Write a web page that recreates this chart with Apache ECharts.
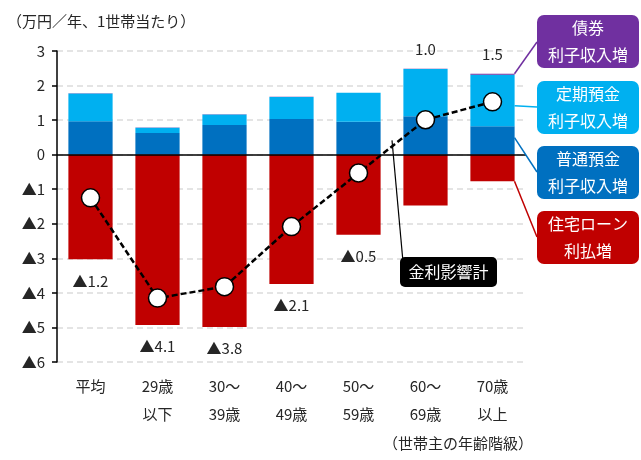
<!DOCTYPE html>
<html><head><meta charset="utf-8">
<script src="https://cdn.jsdelivr.net/npm/echarts@6/dist/echarts.min.js"></script>
<style>html,body{margin:0;padding:0;background:#fff}#c{width:641px;height:460px}</style>
</head><body><div id="c"></div>
<script>
const categories = ['平均','29歳\n以下','30～\n39歳','40～\n49歳','50～\n59歳','60～\n69歳','70歳\n以上'];
const futsuYokin = [0.97, 0.63, 0.86, 1.03, 0.95, 1.11, 0.82];
const teikiYokin = [0.80, 0.15, 0.30, 0.64, 0.84, 1.37, 1.49];
const saiken     = [0.01, 0.005, 0.01, 0.005, 0.005, 0.005, 0.03];
const jutakuLoan = [-3.03, -4.93, -4.99, -3.74, -2.32, -1.47, -0.77];
const kinriTotal = [-1.25, -4.15, -3.82, -2.08, -0.53, 1.01, 1.53];
const totalLabels = ['▲1.2','▲4.1','▲3.8','▲2.1','▲0.5','1.0','1.5'];
const yTicks = [-6,-5,-4,-3,-2,-1,0,1,2,3];

const FONT = '"Noto Sans CJK JP", "Noto Sans", sans-serif';
const chart = echarts.init(document.getElementById('c'), null, {renderer:'canvas'});
const txt = '#262626';

const option = {
  animation: false,
  textStyle: {fontFamily: FONT},
  title: {text: '（万円／年、1世帯当たり）', left: 2, top: 9,
    textStyle: {fontSize: 15, fontWeight: 'normal', color: txt, fontFamily: FONT}},
  grid: {left: 57, right: 115, top: 51, bottom: 98},
  xAxis: {type: 'category', data: categories,
    axisLine: {show: false, onZero: false}, axisTick: {show: false},
    axisLabel: {color: txt, fontSize: 15, lineHeight: 28, margin: 10, fontFamily: FONT}},
  yAxis: {type: 'value', min: yTicks[0], max: yTicks[yTicks.length-1], interval: 1,
    axisLine: {show: true, lineStyle: {color: '#000', width: 1.5}},
    axisTick: {show: true, length: 5, lineStyle: {color: '#000', width: 1.5}},
    axisLabel: {color: txt, fontSize: 15, margin: 12, fontFamily: FONT,
      formatter: v => v < 0 ? '▲' + (-v) : String(v)},
    splitLine: {show: true, lineStyle: {color: '#dcdcdc', width: 1.5, type: [6,4]}}},
  series: [
    {name: '普通預金', type: 'bar', stack: 'a', data: futsuYokin, barWidth: '66%',
      itemStyle: {color: '#0070C0'}},
    {name: '定期預金', type: 'bar', stack: 'a', data: teikiYokin,
      itemStyle: {color: '#00B0F0'}},
    {name: '債券', type: 'bar', stack: 'a', data: saiken,
      itemStyle: {color: '#7030A0'},
      label: {show: true, position: 'top', distance: 12, color: txt, fontSize: 15, fontFamily: FONT,
        formatter: p => kinriTotal[p.dataIndex] >= 0 ? totalLabels[p.dataIndex] : ''}},
    {name: '住宅ローン', type: 'bar', stack: 'a', data: jutakuLoan,
      itemStyle: {color: '#C00000'},
      label: {show: true, position: 'bottom', distance: 14, color: txt, fontSize: 15, fontFamily: FONT,
        formatter: p => kinriTotal[p.dataIndex] < 0 ? totalLabels[p.dataIndex] : ''},
      markLine: {silent: true, symbol: 'none', label: {show: false},
        lineStyle: {color: '#000', width: 1.5, type: 'solid'},
        data: [{yAxis: 0}]}},
    {name: '金利影響計', type: 'line', data: kinriTotal, z: 10,
      lineStyle: {color: '#000', width: 2.5, type: [6,3]},
      symbol: 'circle', symbolSize: 18,
      itemStyle: {color: '#fff', borderColor: '#000', borderWidth: 1.5}}
  ]
};
chart.setOption(option);

// annotation boxes with leader lines
const last = categories.length - 1;
const px = (i, v) => chart.convertToPixel({seriesIndex: 0}, [i, v]);
const halfBar = 22;
const boxes = [
  {text: '債券\n利子収入増', color: '#7030A0', y: 15, from: futsuYokin[last]+teikiYokin[last]+saiken[last], toY: 42},
  {text: '定期預金\n利子収入増', color: '#00B0F0', y: 81, from: futsuYokin[last]+teikiYokin[last]*0.4, toY: 107},
  {text: '普通預金\n利子収入増', color: '#0070C0', y: 146, from: futsuYokin[last]*0.6, toY: 172},
  {text: '住宅ローン\n利払増', color: '#C00000', y: 211, from: jutakuLoan[last], toY: 237}
];
const g = [];
boxes.forEach(b => {
  const p = px(last, b.from);
  g.push({type: 'line', shape: {x1: p[0] + halfBar, y1: p[1], x2: 537, y2: b.toY},
    style: {stroke: b.color, lineWidth: 1.5}, z: 20});
  g.push({type: 'rect', shape: {x: 537, y: b.y, width: 102, height: 53, r: 7},
    style: {fill: b.color}, z: 21});
  g.push({type: 'text', x: 588, y: b.y + 26.5,
    style: {text: b.text, fill: '#fff', font: '16px ' + FONT, align: 'center', verticalAlign: 'middle', lineHeight: 27}, z: 22});
});
// 金利影響計 callout
const a = px(4, kinriTotal[4]), c = px(5, kinriTotal[5]);
const sx = a[0] + (c[0]-a[0])*0.5, sy = a[1] + (c[1]-a[1])*0.5 - 6;
g.push({type: 'line', shape: {x1: sx, y1: sy, x2: 403, y2: 262}, style: {stroke: '#000', lineWidth: 1.2}, z: 20});
g.push({type: 'rect', shape: {x: 400, y: 257, width: 97, height: 30, r: 5}, style: {fill: '#000'}, z: 21});
g.push({type: 'text', x: 448.5, y: 272, style: {text: '金利影響計', fill: '#fff', font: '16px ' + FONT, align: 'center', verticalAlign: 'middle'}, z: 22});
// axis name
g.push({type: 'text', x: 383, y: 443, style: {text: '（世帯主の年齢階級）', fill: txt, font: '15px ' + FONT, align: 'left', verticalAlign: 'middle'}, z: 22});
chart.setOption({graphic: g});
</script>
</body></html>
